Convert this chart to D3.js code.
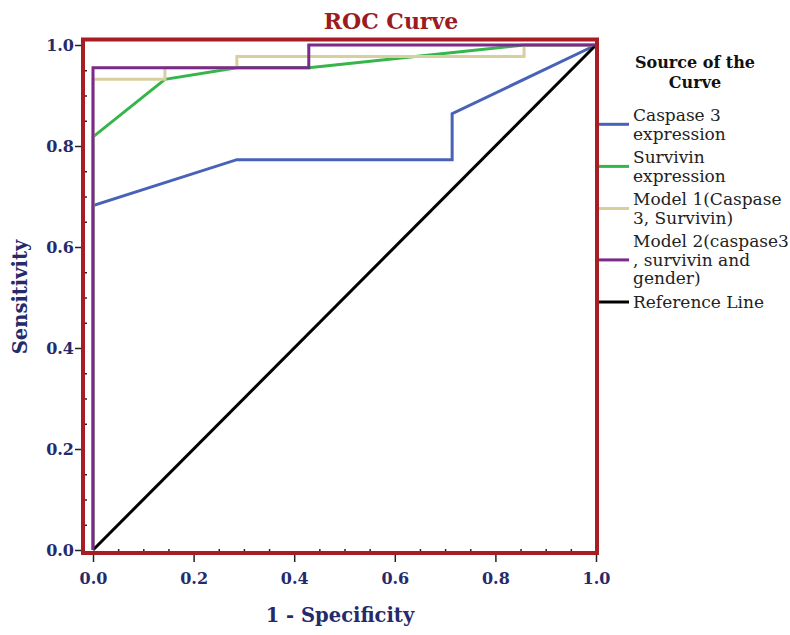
<!DOCTYPE html>
<html>
<head>
<meta charset="utf-8">
<script src="https://cdn.jsdelivr.net/npm/d3@7"></script>
<style>
  body { margin: 0; background: #fff; }
  text { font-family: "DejaVu Serif", serif; }
</style>
</head>
<body>
<div id="rocChart"></div>
<script>
'use strict';

// values (1 - specificity, sensitivity)
const caspaseFpr = [0, 0, 0.286, 0.714, 0.714, 1];
const caspaseTpr = [0, 0.682, 0.773, 0.773, 0.864, 1];
const survivinFpr = [0, 0, 0.143, 0.286, 0.429, 0.857, 1];
const survivinTpr = [0, 0.818, 0.932, 0.955, 0.955, 1, 1];
const model1Fpr = [0, 0, 0.143, 0.143, 0.286, 0.286, 0.857, 0.857, 1];
const model1Tpr = [0, 0.932, 0.932, 0.955, 0.955, 0.977, 0.977, 1, 1];
const model2Fpr = [0, 0, 0.429, 0.429, 1];
const model2Tpr = [0, 0.955, 0.955, 1, 1];
const refFpr = [0, 1];
const refTpr = [0, 1];

const seriesNames = [
    ["Caspase 3", "expression"],
    ["Survivin", "expression"],
    ["Model 1(Caspase", "3, Survivin)"],
    ["Model 2(caspase3", ", survivin and", "gender)"],
    ["Reference Line"]
];
const seriesColors = ["#4862b8", "#36b54b", "#d8cf9f", "#7b2a8b", "#000000"];
const tickValues = [0, 0.2, 0.4, 0.6, 0.8, 1.0];

const navy = "#262a6b";
let x;
let y;

function drawChart() {
    let width = 790;
    let height = 635;

    let svg = d3.select('#rocChart').append('svg')
        .attr("width", width)
        .attr("height", height);

    x = d3.scaleLinear().domain([0, 1]).range([93, 596]);
    y = d3.scaleLinear().domain([0, 1]).range([550, 45]);

    let frame = { left: 83, right: 597, top: 39.5, bottom: 553 };

    // curves
    let series = [
        [caspaseFpr, caspaseTpr],
        [survivinFpr, survivinTpr],
        [model1Fpr, model1Tpr],
        [model2Fpr, model2Tpr],
        [refFpr, refTpr]
    ];
    let line = d3.line()
        .x(function (d) { return x(d[0]); })
        .y(function (d) { return y(d[1]); });

    let order = [0, 1, 2, 4, 3];
    svg.append('g').selectAll('path').data(order).enter().append('path')
        .attr('d', function (i) { return line(d3.zip(series[i][0], series[i][1])); })
        .attr('fill', 'none')
        .attr('stroke', function (i) { return seriesColors[i]; })
        .attr('stroke-width', 3)
        .attr('stroke-linejoin', 'miter');

    // minor ticks point inward, major ticks outward
    let minor = y.ticks(20).filter(function (d) { return tickValues.indexOf(+d.toFixed(2)) < 0; });

    let yMinor = svg.append('g')
        .attr('transform', 'translate(' + frame.left + ',0)')
        .call(d3.axisRight(y).tickValues(minor).tickSize(4).tickFormat(''));
    let yAxis = svg.append('g')
        .attr('transform', 'translate(' + frame.left + ',0)')
        .call(d3.axisLeft(y).tickValues(tickValues).tickSize(8).tickPadding(1)
            .tickFormat(d3.format('.1f')));
    let xMinor = svg.append('g')
        .attr('transform', 'translate(0,' + frame.bottom + ')')
        .call(d3.axisTop(x).tickValues(minor).tickSize(4).tickFormat(''));
    let xAxis = svg.append('g')
        .attr('transform', 'translate(0,' + frame.bottom + ')')
        .call(d3.axisBottom(x).tickValues(tickValues).tickSize(9).tickPadding(11)
            .tickFormat(d3.format('.1f')));

    [yMinor, yAxis, xMinor, xAxis].forEach(function (a) {
        a.select('.domain').remove();
        a.selectAll('line').attr('stroke', '#222').attr('stroke-width', 1.5);
        a.selectAll('text')
            .attr('fill', navy)
            .style('font-size', '16px')
            .style('font-weight', 'bold')
            .style('font-family', '"DejaVu Serif", serif');
    });

    // frame
    svg.append('rect')
        .attr('x', frame.left)
        .attr('y', frame.top)
        .attr('width', frame.right - frame.left)
        .attr('height', frame.bottom - frame.top)
        .attr('fill', 'none')
        .attr('stroke', '#a81d24')
        .attr('stroke-width', 4);

    // titles
    svg.append('text')
        .attr('x', 391).attr('y', 28.5)
        .attr('text-anchor', 'middle')
        .attr('fill', '#9b1b21')
        .style('font-size', '22px').style('font-weight', 'bold')
        .text('ROC Curve');

    svg.append('text')
        .attr('x', 340).attr('y', 622)
        .attr('text-anchor', 'middle')
        .attr('fill', navy)
        .style('font-size', '19.5px').style('font-weight', 'bold')
        .text('1 - Specificity');

    svg.append('text')
        .attr('transform', 'translate(27,297) rotate(-90)')
        .attr('text-anchor', 'middle')
        .attr('fill', navy)
        .style('font-size', '19.5px').style('font-weight', 'bold')
        .text('Sensitivity');

    // legend
    let legend = svg.append('g');
    legend.selectAll('text.head').data(["Source of the", "Curve"]).enter().append('text')
        .attr('class', 'head')
        .attr('x', 695)
        .attr('y', function (d, i) { return 62 + i * 20; })
        .attr('dy', '0.35em')
        .attr('text-anchor', 'middle')
        .attr('fill', '#111')
        .style('font-size', '16px').style('font-weight', 'bold')
        .text(function (d) { return d; });

    let lineH = 18.6;
    let gap = 23.5;
    let top = 115;
    let starts = [];
    seriesNames.forEach(function (lines) {
        starts.push(top);
        top += (lines.length - 1) * lineH + gap;
    });

    let entries = legend.selectAll('g.entry').data(seriesNames).enter().append('g')
        .attr('class', 'entry')
        .attr('transform', function (d, i) { return 'translate(0,' + starts[i] + ')'; });

    entries.append('line')
        .attr('x1', 599).attr('x2', 629)
        .attr('y1', function (d) { return (d.length - 1) * lineH / 2; })
        .attr('y2', function (d) { return (d.length - 1) * lineH / 2; })
        .attr('stroke', function (d, i) { return seriesColors[i]; })
        .attr('stroke-width', 3);

    entries.selectAll('text').data(function (d) { return d; }).enter().append('text')
        .attr('x', 633)
        .attr('y', function (d, i) { return i * lineH; })
        .attr('dy', '0.35em')
        .attr('fill', '#222')
        .style('font-size', '17px')
        .text(function (d) { return d; });
}

drawChart();
</script>
</body>
</html>
